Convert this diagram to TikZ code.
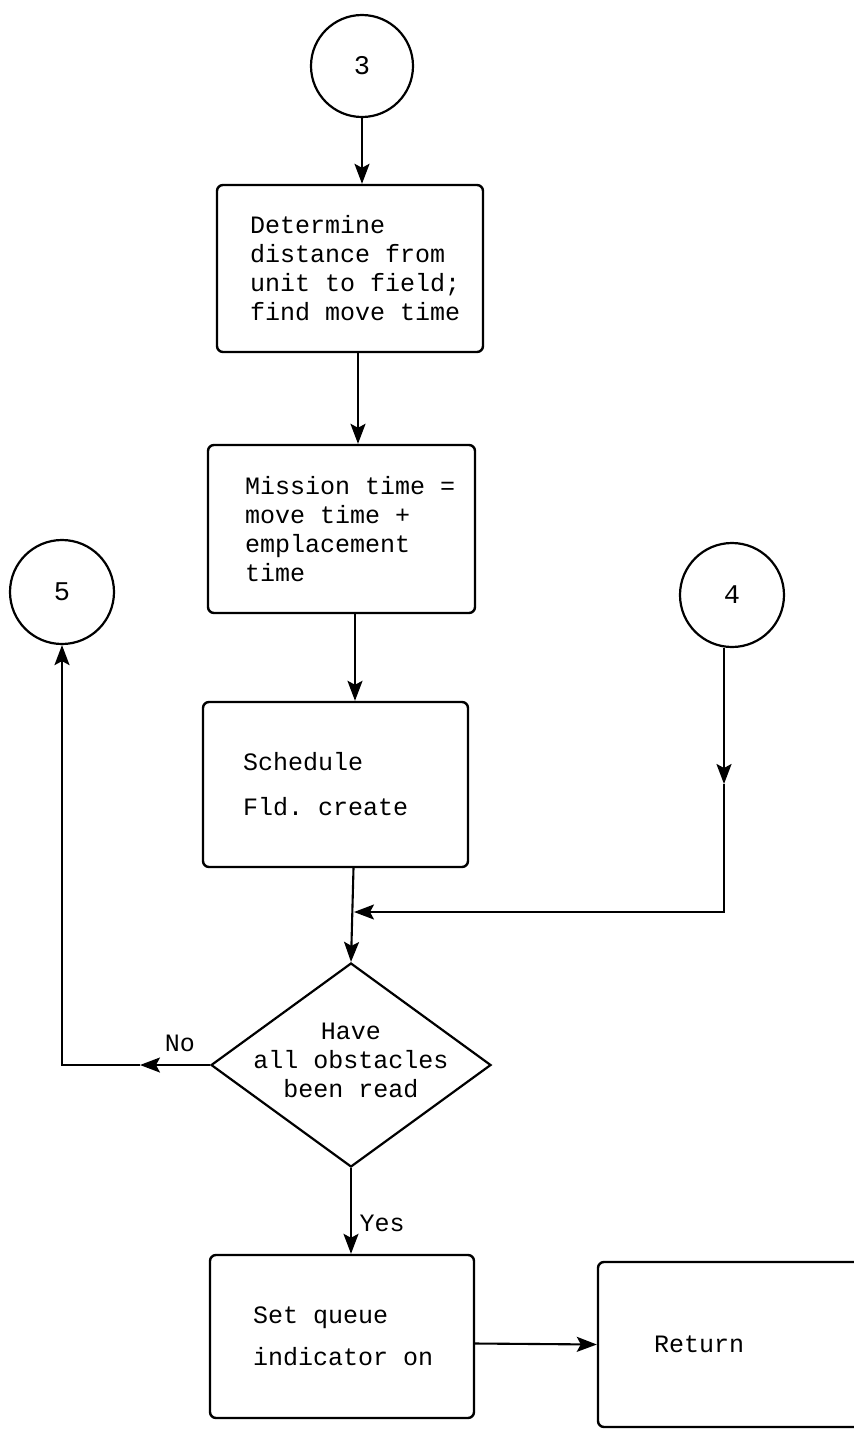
\documentclass[tikz,border=0pt]{standalone}
\usepackage{fontspec}
\newfontfamily\tw{Liberation Mono}
\newcommand\twfont[2]{\tw\fontsize{#1}{#2}\selectfont}
\newcommand\ws{\hspace*{0.6em}}
\usetikzlibrary{shapes.geometric,arrows.meta}
\begin{document}
\begin{tikzpicture}[x=1pt,y=-1pt,
  every node/.style={font=\twfont{25}{29}},
  procbox/.style={draw, line width=2.4pt, rounded corners=6pt, align=left, inner sep=0pt},
  conn/.style={draw, circle, line width=2.2pt, inner sep=0pt, font=\twfont{27}{30}},
  flow/.style={line width=2.1pt},
  arr/.style={flow, -{Stealth[length=20pt,width=15pt,inset=4pt]}},
]
\fill[white] (0,0) rectangle (854,1430);
\useasboundingbox (0,0) rectangle (854,1430);

\node[conn, minimum size=102pt] (c3) at (362,66) {3};
\node[procbox, minimum width=266pt, minimum height=167pt, text width=200pt] (b1) at (350,268.5)
  {Determine\\ \mbox{distance\ws from}\\ \mbox{unit\ws to\ws field;}\\ \mbox{find\ws move\ws time}};
\node[procbox, minimum width=267pt, minimum height=168pt, text width=193pt] (b2) at (341.5,529)
  {\mbox{Mission\ws time\ws =}\\ \mbox{move\ws time\ws +}\\ emplacement\\ time};
\node[procbox, minimum width=265pt, minimum height=165pt, text width=185pt] (b3) at (335.5,784.5)
  {Schedule\\[16pt] \mbox{Fld.\ws create}};
\node[conn, minimum size=104pt] (c5) at (62,592) {5};
\node[conn, minimum size=104pt] (c4) at (732,595) {4};
\node[diamond, draw, line width=2.2pt, minimum width=280pt, minimum height=204pt, inner sep=0pt] (dia) at (351,1065) {};
\node[align=center] (dtext) at (351,1060) {Have\\ \mbox{all\ws obstacles}\\ \mbox{been\ws read}};
\node[procbox, minimum width=264pt, minimum height=163pt, text width=178pt] (b4) at (342,1336.5)
  {\mbox{Set\ws queue}\\[13pt] \mbox{indicator\ws on}};
\node[procbox, minimum width=290pt, minimum height=165pt, text width=178pt] (ret) at (743,1344.5) {Return};

\draw[arr] (c3.south) -- (c3.south |- b1.north);
\draw[arr] ([xshift=8pt]b1.south) -- ([xshift=8pt]b1.south |- b2.north);
\draw[arr] ([xshift=13.5pt]b2.south) -- ([xshift=13.5pt]b2.south |- b3.north);
\draw[arr] ([xshift=18pt]b3.south) -- (dia.north);

\coordinate (c4s) at ([xshift=-8pt]c4.south);
\coordinate (m4) at (724,784);
\coordinate (k) at (724,912);
\coordinate (j) at (354,912);
\draw[arr] (c4s) -- (m4);
\draw[arr] (m4) -- (k) -- (j);

\coordinate (nm) at (140,1065);
\coordinate (nc) at (c5.south |- dia.west);
\draw[arr] (dia.west) -- (nm);
\draw[arr] (nm) -- (nc) -- (c5.south);
\node (nolab) at (180,1043) {No};

\draw[arr] (dia.south) -- (dia.south |- b4.north);
\node[anchor=west] (yeslab) at (356,1223) {Yes};

\draw[arr] ([yshift=-7pt]b4.east) -- (ret.west);
\end{tikzpicture}
\end{document}
